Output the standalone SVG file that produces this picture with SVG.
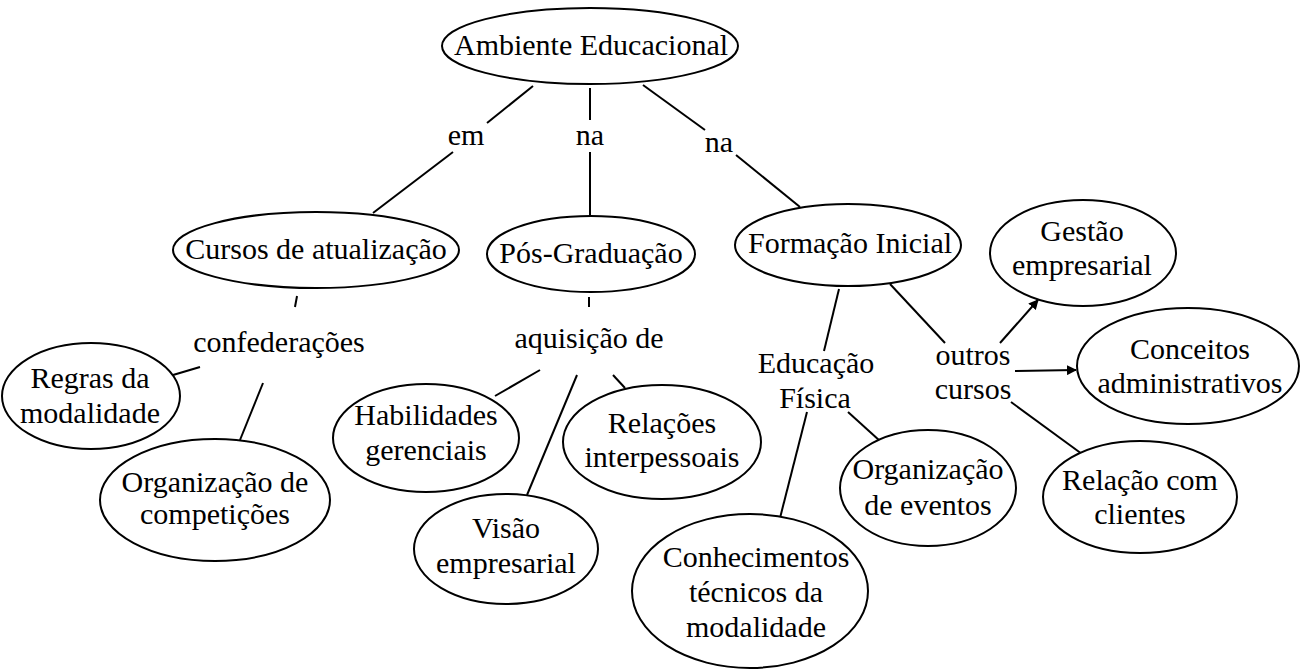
<svg xmlns="http://www.w3.org/2000/svg" width="1303" height="670" viewBox="0 0 1303 670" font-family="'Liberation Serif', 'DejaVu Serif', serif" font-size="30">
<defs>
<style>
.n ellipse{fill:#fff;stroke:#000;stroke-width:2}
text{font-family:'Liberation Serif','Times New Roman',serif;font-size:30px;fill:#000;text-anchor:middle}
.c line{stroke:#000;stroke-width:2}
</style>
<marker id="ah" viewBox="0 0 10 10" refX="9" refY="5" markerWidth="5" markerHeight="5" orient="auto" markerUnits="strokeWidth">
<path d="M0,0 L10,5 L0,10 z" fill="#000"/>
</marker>
</defs>
<rect width="1303" height="670" fill="#fff"/>
<g class="c" id="connectors">
<line x1="533" y1="86" x2="487" y2="123"/>
<line x1="453" y1="152" x2="373" y2="213"/>
<line x1="590" y1="88" x2="590" y2="120"/>
<line x1="590" y1="152" x2="590" y2="217"/>
<line x1="643" y1="85" x2="705" y2="130"/>
<line x1="736" y1="155" x2="800" y2="207"/>
<line x1="297" y1="296" x2="295" y2="307"/>
<line x1="200" y1="367" x2="173" y2="375"/>
<line x1="263" y1="383" x2="240" y2="440"/>
<line x1="589" y1="297" x2="589" y2="307"/>
<line x1="540" y1="370" x2="495" y2="396"/>
<line x1="577" y1="375" x2="527" y2="495"/>
<line x1="613" y1="375" x2="625" y2="388"/>
<line x1="839" y1="289" x2="824" y2="351"/>
<line x1="807" y1="412" x2="780" y2="518"/>
<line x1="848" y1="412" x2="880" y2="441"/>
<line x1="890" y1="284" x2="945" y2="343"/>
<line x1="1000" y1="343" x2="1038" y2="300" marker-end="url(#ah)"/>
<line x1="1015" y1="371" x2="1076" y2="370" marker-end="url(#ah)"/>
<line x1="1011" y1="402" x2="1082" y2="454"/>
</g>
<g id="labels">
<text x="466" y="145">em</text>
<text x="590" y="145">na</text>
<text x="719" y="152">na</text>
<text x="279" y="352">confederações</text>
<text x="589" y="348">aquisição de</text>
<text x="816" y="373">Educação</text>
<text x="815" y="408">Física</text>
<text x="973" y="365">outros</text>
<text x="973" y="399">cursos</text>
</g>
<g class="n" id="ambiente"><ellipse cx="590" cy="46" rx="148" ry="38"/><text x="591" y="55">Ambiente Educacional</text></g>
<g class="n" id="cursos"><ellipse cx="316" cy="250" rx="143" ry="38"/><text x="316" y="259">Cursos de atualização</text></g>
<g class="n" id="pos"><ellipse cx="591" cy="254" rx="104" ry="38"/><text x="591" y="263">Pós-Graduação</text></g>
<g class="n" id="formacao"><ellipse cx="848" cy="245" rx="113" ry="41"/><text x="850" y="253">Formação Inicial</text></g>
<g class="n" id="gestao"><ellipse cx="1083" cy="253" rx="93" ry="53"/><text x="1082" y="241">Gestão</text><text x="1082" y="275">empresarial</text></g>
<g class="n" id="conceitos"><ellipse cx="1188" cy="366" rx="111" ry="58"/><text x="1190" y="359">Conceitos</text><text x="1190" y="393">administrativos</text></g>
<g class="n" id="relacao"><ellipse cx="1140" cy="497" rx="97" ry="56"/><text x="1140" y="490">Relação com</text><text x="1140" y="524">clientes</text></g>
<g class="n" id="regras"><ellipse cx="91" cy="396" rx="89" ry="53"/><text x="90" y="388">Regras da</text><text x="90" y="423">modalidade</text></g>
<g class="n" id="orgcomp"><ellipse cx="215" cy="500" rx="115" ry="61"/><text x="215" y="492">Organização de</text><text x="215" y="524">competições</text></g>
<g class="n" id="habilidades"><ellipse cx="426" cy="438" rx="93" ry="54"/><text x="426" y="425">Habilidades</text><text x="426" y="460">gerenciais</text></g>
<g class="n" id="relacoes"><ellipse cx="662" cy="442" rx="99" ry="57"/><text x="662" y="433">Relações</text><text x="662" y="467">interpessoais</text></g>
<g class="n" id="visao"><ellipse cx="506" cy="549" rx="92" ry="55"/><text x="506" y="538">Visão</text><text x="506" y="573">empresarial</text></g>
<g class="n" id="conhecimentos"><ellipse cx="750" cy="591" rx="118" ry="77"/><text x="756" y="567">Conhecimentos</text><text x="756" y="602">técnicos da</text><text x="756" y="637">modalidade</text></g>
<g class="n" id="orgeventos"><ellipse cx="928" cy="488" rx="88" ry="58"/><text x="928" y="479">Organização</text><text x="928" y="515">de eventos</text></g>
</svg>
